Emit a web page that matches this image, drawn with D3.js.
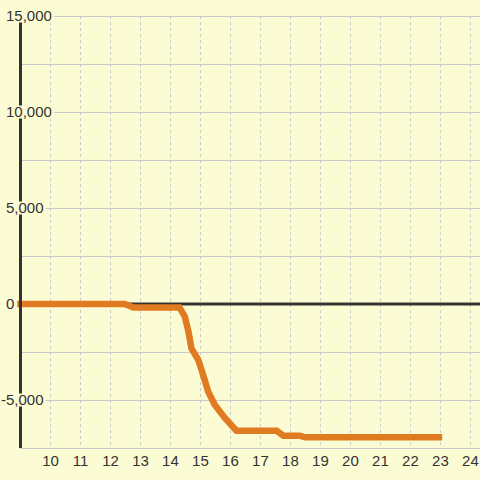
<!DOCTYPE html>
<html>
<head>
<meta charset="utf-8">
<script src="https://cdn.jsdelivr.net/npm/d3@7"></script>
<style>
  html, body { margin: 0; padding: 0; background: #fcfcd4; }
  svg { display: block; }
  text { font-family: "Liberation Sans", Arial, sans-serif; }
</style>
</head>
<body>
<div id="chart"></div>
<script>
// Data
const xValues = [9, 12.48, 12.76, 14.3, 14.48, 14.6, 14.7, 14.93, 15.09, 15.26, 15.48, 15.82, 16.2, 17.54, 17.76, 18.32, 18.48, 22.95];
const yValues = [0, 0, -180, -180, -660, -1440, -2310, -2920, -3700, -4570, -5260, -5950, -6600, -6600, -6860, -6860, -6940, -6940];
const xTicks = [10, 11, 12, 13, 14, 15, 16, 17, 18, 19, 20, 21, 22, 23, 24];
const yTicks = [-5000, 0, 5000, 10000, 15000];
const yGrid = [-7500, -5000, -2500, 0, 2500, 5000, 7500, 10000, 12500, 15000];

const W = 480, H = 480;
const bg = "#fcfcd4";
const svg = d3.select("#chart").append("svg").attr("width", W).attr("height", H);
svg.append("rect").attr("width", W).attr("height", H).attr("fill", bg);

const x = d3.scaleLinear().domain([9, 24.32]).range([20.5, 480]);
const y = d3.scaleLinear().domain([-7500, 15000]).range([448, 16]);

// horizontal gridlines
svg.append("g").selectAll("line").data(yGrid).join("line")
  .attr("x1", x(9)).attr("x2", W)
  .attr("y1", d => y(d) + 0.5).attr("y2", d => y(d) + 0.5)
  .attr("stroke", "#c8c8c8").attr("stroke-width", 1);

// vertical dashed gridlines
svg.append("g").selectAll("line").data(xTicks).join("line")
  .attr("x1", d => x(d)).attr("x2", d => x(d))
  .attr("y1", y(15000)).attr("y2", y(-7500))
  .attr("stroke", "#c8c8c8").attr("stroke-width", 1)
  .attr("stroke-dasharray", "3,3");

// zero line
svg.append("line")
  .attr("x1", x(9)).attr("x2", W)
  .attr("y1", y(0)).attr("y2", y(0))
  .attr("stroke", "#333").attr("stroke-width", 3);

// data line
const pts = xValues.map((v, i) => [v, yValues[i]]);
svg.append("path")
  .attr("d", d3.line().x(d => x(d[0])).y(d => y(d[1]))(pts))
  .attr("fill", "none")
  .attr("stroke", "#e07b22")
  .attr("stroke-width", 6.5)
  .attr("stroke-linecap", "square")
  .attr("stroke-linejoin", "miter");

// y axis line
svg.append("line")
  .attr("x1", 20.5).attr("x2", 20.5)
  .attr("y1", y(15000)).attr("y2", y(-7500))
  .attr("stroke", "#333").attr("stroke-width", 3);

// y labels with background
const fmt = d3.format(",");
const yl = svg.append("g").selectAll("g").data(yTicks).join("g");
yl.each(function(d) {
  const g = d3.select(this);
  const t = g.append("text")
    .attr("y", y(d))
    .attr("dy", "0.35em")
    .attr("font-size", 15)
    .attr("fill", "#333")
    .attr("text-anchor", "start");
  let startX = 6;
  if (d < 0) {
    t.text("-");
    const mw = t.node().getComputedTextLength();
    startX = 6 - mw;
  }
  t.text(fmt(Math.abs(d)) === fmt(d) ? fmt(d) : "-" + fmt(Math.abs(d)));
  t.attr("x", startX);
  const w = t.node().getComputedTextLength();
  g.insert("rect", "text")
    .attr("x", startX - 2).attr("width", w + 4)
    .attr("y", y(d) - 6.5).attr("height", 13)
    .attr("fill", bg);
});

// x labels
svg.append("g").selectAll("text").data(xTicks).join("text")
  .attr("x", d => x(d))
  .attr("y", 461)
  .attr("dy", "0.35em")
  .attr("text-anchor", "middle")
  .attr("font-size", 15)
  .attr("fill", "#333")
  .text(d => d);
</script>
</body>
</html>
